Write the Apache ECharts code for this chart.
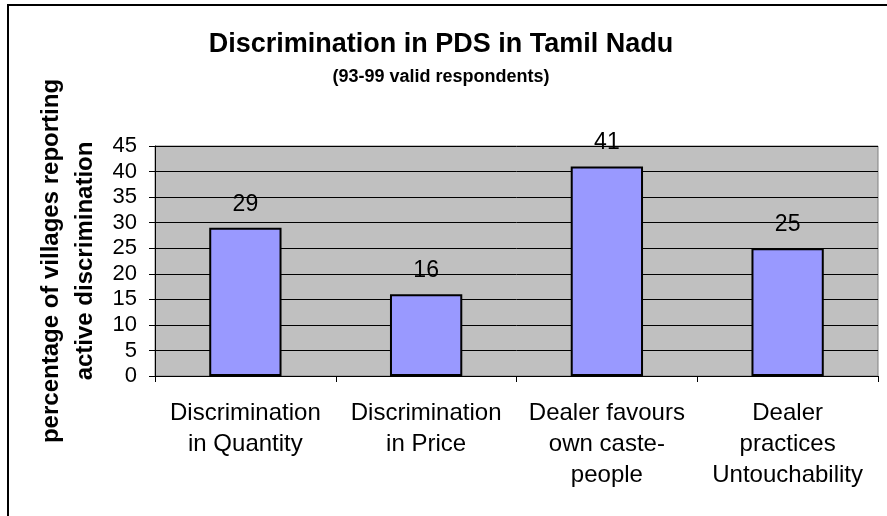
<!DOCTYPE html>
<html>
<head>
<meta charset="utf-8">
<script src="https://cdn.jsdelivr.net/npm/echarts@6/dist/echarts.min.js"></script>
<style>
html,body{margin:0;padding:0;background:#fff;}
#chart{width:887px;height:516px;}
</style>
</head>
<body>
<div id="chart"></div>
<script>
var categories = ["Discrimination\nin Quantity", "Discrimination\nin Price", "Dealer favours\nown caste-\npeople", "Dealer\npractices\nUntouchability"];
var values = [29, 16, 41, 25];
var yMin = 0, yMax = 45, yStep = 5;
var titleText = "Discrimination in PDS in Tamil Nadu";
var subtitleText = "(93-99 valid respondents)";
var yTitleLine1 = "percentage of villages reporting";
var yTitleLine2 = "active discrimination";

var FONT = "Liberation Sans, Arial, sans-serif";
var chart = echarts.init(document.getElementById('chart'), null, {renderer: 'canvas'});
chart.setOption({
  backgroundColor: '#ffffff',
  animation: false,
  title: [
    {text: titleText, left: 436, top: 26, textAlign: 'center',
     textStyle: {fontFamily: FONT, fontWeight: 'bold', fontSize: 27, color: '#000'}},
    {text: subtitleText, left: 436, top: 63, textAlign: 'center',
     textStyle: {fontFamily: FONT, fontWeight: 'bold', fontSize: 18, color: '#000'}}
  ],
  grid: {left: 155, right: 9, top: 146, bottom: 140, show: true, backgroundColor: '#C0C0C0', borderColor: '#808080', borderWidth: 1},
  xAxis: {
    type: 'category', data: categories, boundaryGap: true,
    axisLine: {show: true, lineStyle: {color: '#000', width: 1}},
    axisTick: {show: true, length: 6, alignWithLabel: false, lineStyle: {color: '#000'}},
    axisLabel: {interval: 0, margin: 22, fontFamily: FONT, fontSize: 24, color: '#000', lineHeight: 31, align: 'center'},
    splitLine: {show: false}
  },
  yAxis: {
    type: 'value', min: yMin, max: yMax, interval: yStep,
    axisLine: {show: true, lineStyle: {color: '#000', width: 1}},
    axisTick: {show: true, length: 6, lineStyle: {color: '#000'}},
    axisLabel: {margin: 18, fontFamily: FONT, fontSize: 22, color: '#000'},
    splitLine: {show: true, lineStyle: {color: '#000', width: 1}}
  },
  series: [{
    type: 'bar', data: values, barWidth: '40%',
    itemStyle: {color: '#9999FF', borderColor: '#000', borderWidth: 2},
    label: {show: true, position: 'top', distance: 12, fontFamily: FONT, fontSize: 23, color: '#000'}
  }],
  graphic: [
    {type: 'polyline', shape: {points: [[8, 516], [8, 5], [887, 5]]}, style: {stroke: '#000', lineWidth: 2, fill: null}, silent: true},
    {type: 'text', x: 51, y: 261, rotation: Math.PI / 2,
     style: {text: yTitleLine1, fontFamily: FONT, fontWeight: 'bold', fontSize: 24, fill: '#000', align: 'center', verticalAlign: 'middle'}},
    {type: 'text', x: 85, y: 261, rotation: Math.PI / 2,
     style: {text: yTitleLine2, fontFamily: FONT, fontWeight: 'bold', fontSize: 24, fill: '#000', align: 'center', verticalAlign: 'middle'}}
  ]
});
</script>
</body>
</html>
